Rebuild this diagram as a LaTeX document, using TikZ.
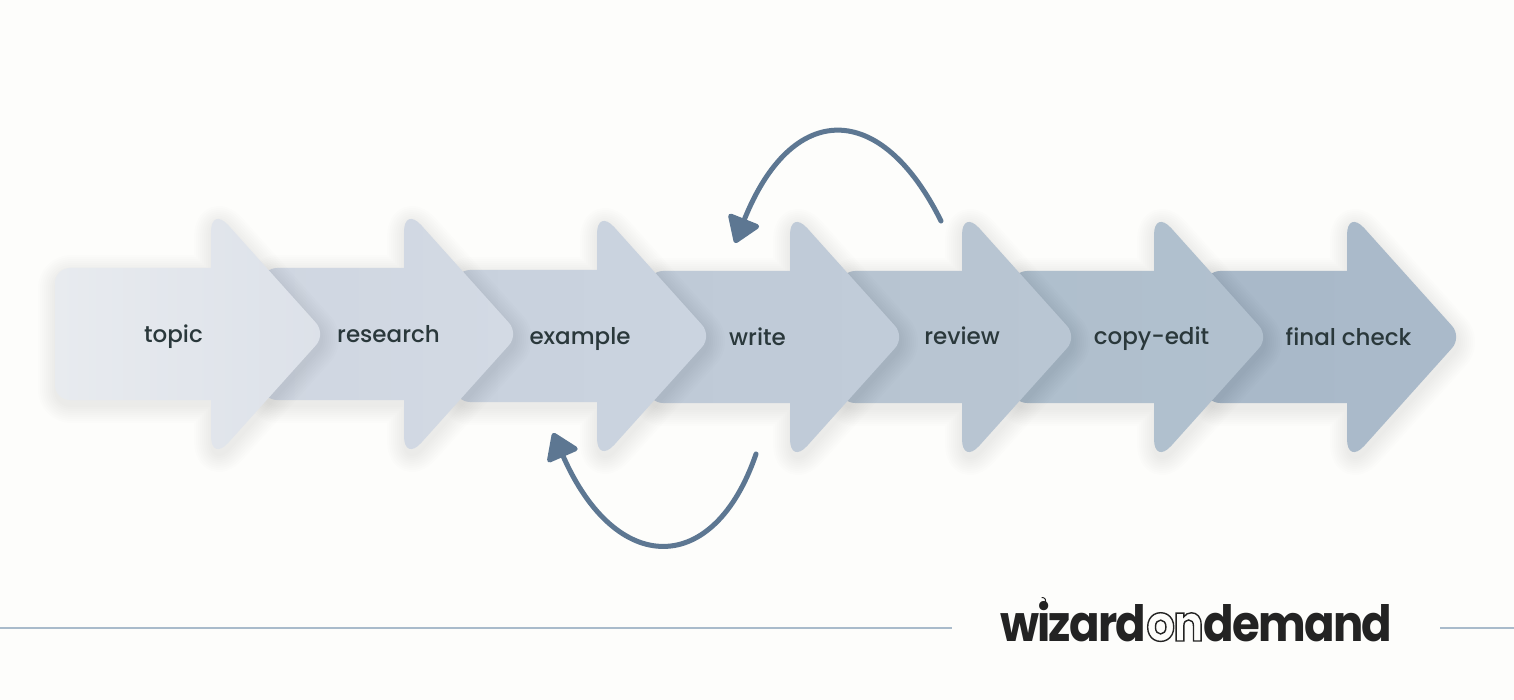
\documentclass[tikz,border=0pt]{standalone}
\usepackage{fontspec}
\setmainfont{Poppins}[UprightFont=* Medium,BoldFont=* Bold]
\newfontfamily\logofont{Poppins}[UprightFont=* Bold,LetterSpace=-3.5,FakeStretch=0.9]
\usetikzlibrary{arrows.meta}
\definecolor{paper}{HTML}{FDFDFB}
\definecolor{rule}{HTML}{A9BBCB}
\definecolor{ink}{HTML}{2A383B}
\definecolor{loopblue}{HTML}{5D7792}
\definecolor{logoink}{HTML}{232323}
\tikzset{
	steplabel/.style={text=ink, anchor=base, inner sep=0pt, font=\fontsize{23}{28}\selectfont},
	backloop/.style={draw=loopblue, line width=5pt, line cap=round, -{Triangle[length=28pt,width=36pt,round]}},
}
% one arrow: left edge, neck, middle line
\newcommand{\arrowpath}[3]{
	(#2,#3-66) -- (#1+20,#3-66) [rounded corners=15pt] -- (#1,#3-66) -- (#1,#3+66) [sharp corners] -- (#2,#3+66)
	[rounded corners=26pt] -- (#2,#3+128) [rounded corners=15pt] -- (#2+115,#3) [rounded corners=26pt] -- (#2,#3-128) [sharp corners] -- cycle
}
\begin{document}
\begin{tikzpicture}[x=1pt,y=-1pt]
	\useasboundingbox[fill=paper] (0,0) rectangle (1514,700);
	% arrows, last one first so that each tip lies on the next body
	\foreach \leftx/\neck/\mid/\light/\dark [count=\index] in {
		1205/1347/337/A9B9C9/AABACA,
		1012/1154/337/AFBFCD/B1C0CE,
		840/962/337/B7C4D1/B9C6D3,
		648/790/337/BFCAD7/C1CCD9,
		455/597/336/C8D1DD/CBD4E0,
		262/404/334/CFD6E1/D3DAE4,
		55/211/334/E8EBEF/DCE1E9}
	{
		\definecolor{arrowlight}{HTML}{\light}
		\definecolor{arrowdark}{HTML}{\dark}
		% soft shadow
		\foreach \blur in {36,32,...,4}
		{
			\begin{scope}[transparency group, opacity=0.006]
				\filldraw[black, line width=\blur pt, line join=round, shift={(1,5)}] \arrowpath{\leftx}{\neck}{\mid};
			\end{scope}
		}
		\path[left color=arrowlight, right color=arrowdark] \arrowpath{\leftx}{\neck}{\mid};
	}
	% step labels
	\node[steplabel] (topic) at (173.5,342) {topic};
	\node[steplabel] (research) at (388.5,342) {research};
	\node[steplabel] (example) at (580,344) {example};
	\node[steplabel] (write) at (757.5,345) {write};
	\node[steplabel] (review) at (962,344) {review};
	\node[steplabel] (copyedit) at (1151.5,344) {copy-edit};
	\node[steplabel] (finalcheck) at (1348.5,345) {final check};
	% loops back
	\coordinate (reviewend) at (941,221);
	\coordinate (writeend) at (735,243);
	\coordinate (writelow) at (756,454);
	\coordinate (examplelow) at (553,433);
	\draw[backloop] (reviewend) .. controls (881,100) and (792,100) .. (writeend);
	\draw[backloop] (writelow) .. controls (714,577) and (616,577) .. (examplelow);
	% footer
	\coordinate (ruleA) at (0,628);
	\coordinate (ruleB) at (952,628);
	\coordinate (ruleC) at (1440,628);
	\coordinate (ruleD) at (1514,628);
	\draw[rule, line width=1.5pt] (ruleA) -- (ruleB);
	\draw[rule, line width=1.5pt] (ruleC) -- (ruleD);
	\node[text=logoink, anchor=base west, inner sep=0pt, font=\logofont\fontsize{50}{56}\selectfont] (logo) at (1000,641)
		{wizard\special{pdf:code 1 Tr 1.4 w}on\special{pdf:code 0 Tr}demand};
	\draw[logoink, line width=1pt] (1044,604) arc[start angle=60, end angle=-100, radius=3.5];
\end{tikzpicture}
\end{document}
